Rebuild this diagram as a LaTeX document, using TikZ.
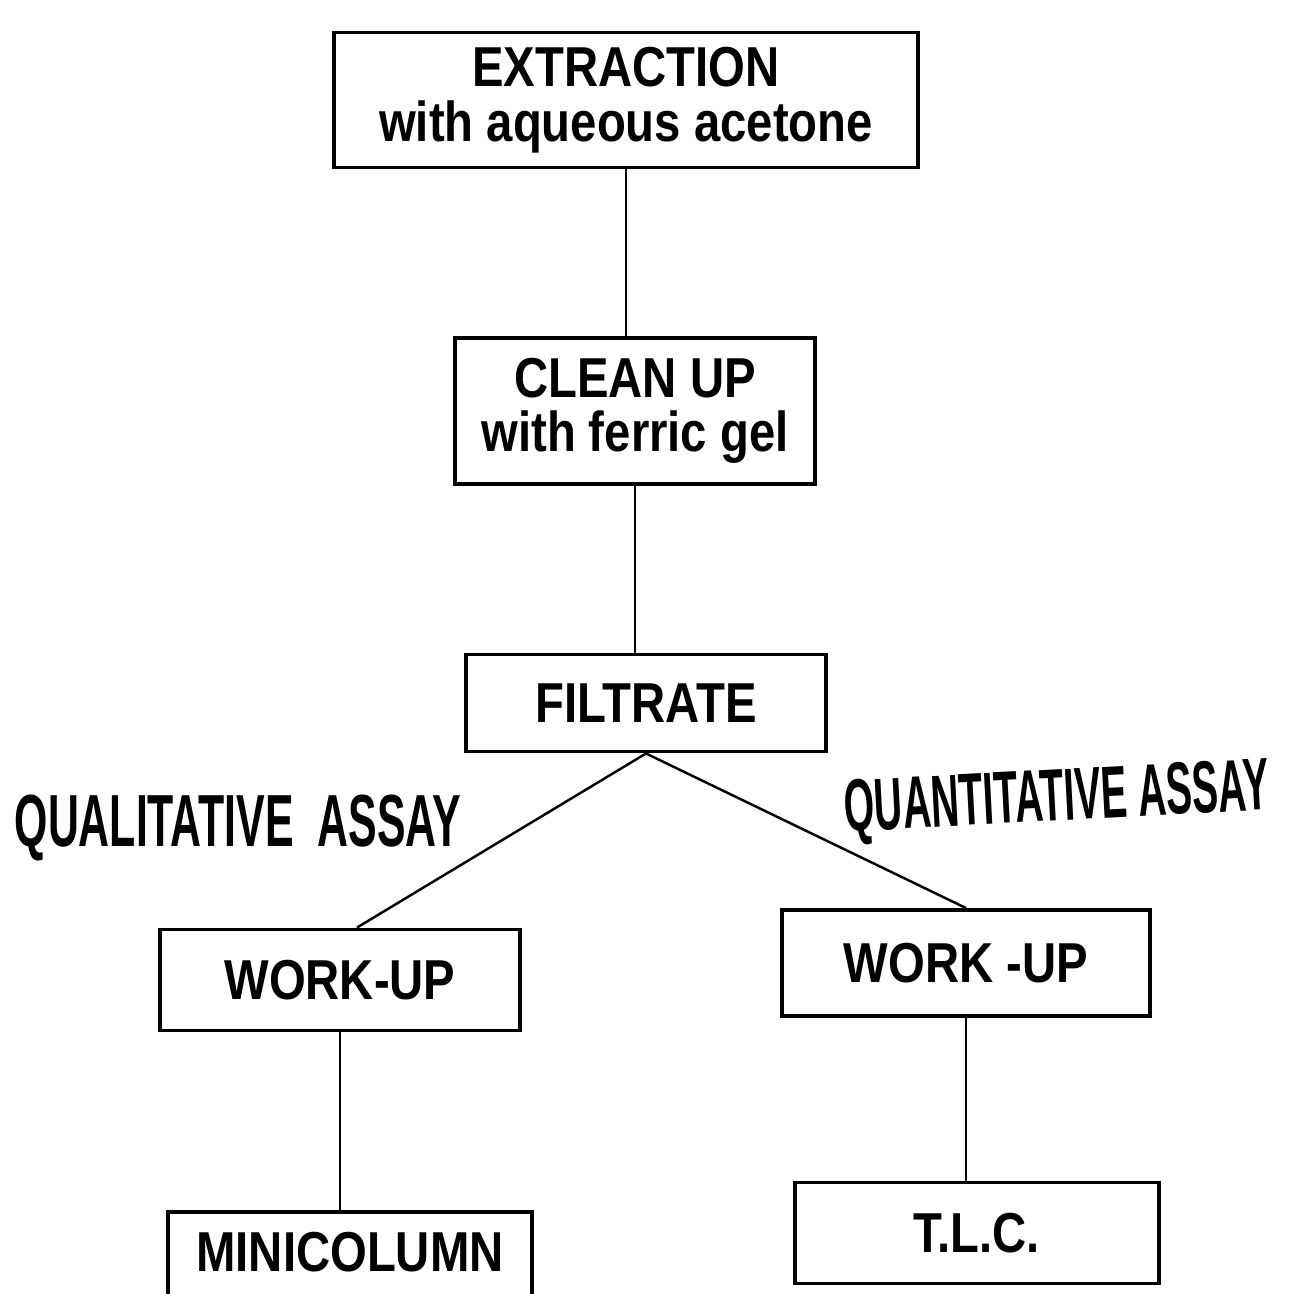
\documentclass[tikz,border=0pt]{standalone}
\usepackage{fontspec}
\setmainfont{Liberation Sans}
\newfontfamily\boxfont[FakeStretch=0.84]{Liberation Sans}
\newfontfamily\labfont[FakeStretch=0.58]{Liberation Sans}
\newfontfamily\labfontb[FakeStretch=0.53]{Liberation Sans}
\begin{document}
\begin{tikzpicture}[x=0.01cm,y=-0.01cm,
  box/.style={draw=black,line width=1.1pt,inner sep=0pt,align=center,
    font=\boxfont\bfseries\fontsize{16}{15.5}\selectfont},
  link/.style={draw=black,line width=0.7pt},
  lab/.style={inner sep=0pt,font=\labfont\bfseries\fontsize{21}{24}\selectfont},
  labb/.style={inner sep=0pt,font=\labfontb\bfseries\fontsize{21}{24}\selectfont}]
\useasboundingbox (0,0) rectangle (1297,1293);
\clip (0,0) rectangle (1297,1293);
\node[box,minimum width=5.83cm,minimum height=1.35cm] (ext) at (626,100)
  {EXTRACTION\\with aqueous acetone};
\node[box,minimum width=3.60cm,minimum height=1.46cm] (clean) at (635,411)
  {CLEAN UP\\with ferric gel};
\node[box,minimum width=3.60cm,minimum height=0.97cm] (filt) at (646,703)
  {FILTRATE};
\node[box,minimum width=3.59cm,minimum height=1.01cm] (wl) at (340,980)
  {WORK-UP};
\node[box,minimum width=3.67cm,minimum height=1.06cm] (wr) at (966,963)
  {WORK -UP};
\node[box,minimum width=3.64cm,minimum height=0.98cm] (mini) at (350,1261)
  {};
\node[inner sep=0pt,font=\boxfont\bfseries\fontsize{16}{15.5}\selectfont] (minit) at (350,1252) {MINICOLUMN};
\node[box,minimum width=3.63cm,minimum height=1.01cm] (tlc) at (977,1233)
  {T.L.C.};
\node[lab] (qual) at (238,828) {QUALITATIVE\ \ ASSAY};
\node[labb,rotate=3] (quant) at (1057,802) {QUANTITATIVE\ ASSAY};
\draw[link] (ext.south) -- (ext.south |- clean.north);
\draw[link] (clean.south) -- (clean.south |- filt.north);
\draw[link] (filt.south) -- ([xshift=0.17cm]wl.north);
\draw[link] (filt.south) -- (wr.north);
\draw[link] (wl.south) -- (wl.south |- mini.north);
\draw[link] (wr.south) -- (wr.south |- tlc.north);
\end{tikzpicture}
\end{document}
